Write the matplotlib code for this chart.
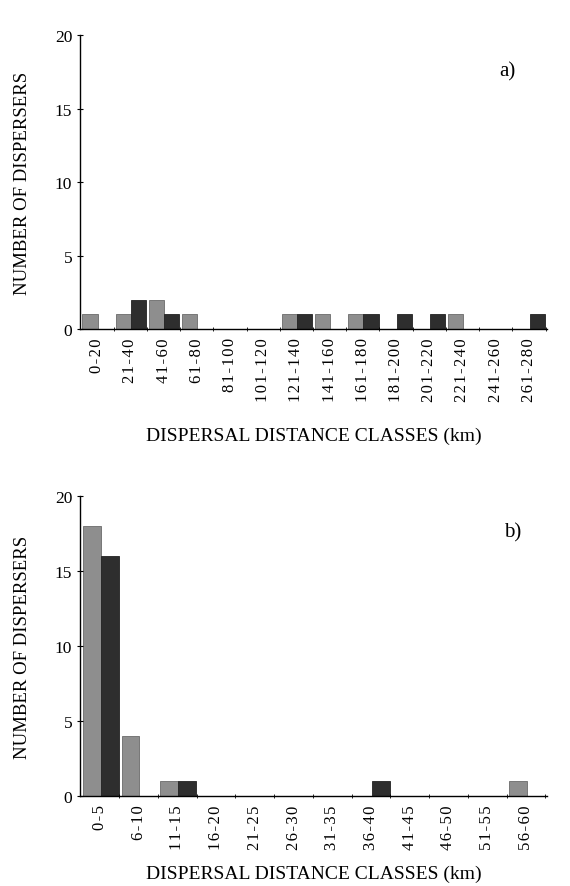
import matplotlib
matplotlib.use("Agg")
import matplotlib.pyplot as plt
import numpy as np

plt.rcParams['font.family'] = ['Liberation Serif', 'DejaVu Serif']

# a) classes de 20 km
classes_a = ["0-20", "21-40", "41-60", "61-80", "81-100", "101-120", "121-140",
             "141-160", "161-180", "181-200", "201-220", "221-240", "241-260", "261-280"]
gris_a = [1, 1, 2, 1, 0, 0, 1, 1, 1, 0, 0, 1, 0, 0]
noir_a = [0, 2, 1, 0, 0, 0, 1, 0, 1, 1, 1, 0, 0, 1]

# b) classes de 5 km
classes_b = ["0-5", "6-10", "11-15", "16-20", "21-25", "26-30",
             "31-35", "36-40", "41-45", "46-50", "51-55", "56-60"]
gris_b = [18, 4, 1, 0, 0, 0, 0, 0, 0, 0, 0, 1]
noir_b = [16, 0, 1, 0, 0, 0, 0, 1, 0, 0, 0, 0]

c_gris = '#8e8e8e'
c_noir = '#2e2e2e'


def espace(s):
    # chiffres un peu espacés comme dans la figure d'origine
    return "\u200a".join(s)


def panneau(ax, classes, gris, noir, lettre, xlettre, pad_x):
    x = np.arange(len(classes))
    w = 0.46
    ax.bar(x - w/2 + 0.02, gris, width=w, color=c_gris, edgecolor='#6a6a6a', linewidth=0.6)
    ax.bar(x + w/2 + 0.02, noir, width=w, color=c_noir, edgecolor='#222222', linewidth=0.6)
    ax.set_xlim(-0.52, len(classes) - 0.45)
    ax.set_ylim(0, 20)
    ax.set_yticks([0, 5, 10, 15, 20])
    ax.set_xticks(x)
    ax.set_xticklabels([espace(c) for c in classes], rotation=90, fontsize=12)
    ax.set_xticks(x + 0.5, minor=True)
    ax.tick_params(axis='x', which='major', length=0, pad=6)
    ax.tick_params(axis='x', which='minor', length=3, direction='inout')
    ax.tick_params(axis='y', length=4, direction='inout', labelsize=12.5)
    for s in ['top', 'right']:
        ax.spines[s].set_visible(False)
    ax.spines['left'].set_linewidth(1.0)
    ax.spines['bottom'].set_linewidth(1.0)
    ax.set_ylabel("NUMBER OF DISPERSERS", fontsize=13.5, labelpad=17)
    ax.set_xlabel("DISPERSAL DISTANCE CLASSES (km)", fontsize=14, labelpad=pad_x)
    ax.text(xlettre, 0.88, lettre, transform=ax.transAxes, fontsize=15,
            ha='center', va='center')


fig = plt.figure(figsize=(5.7, 8.87), dpi=100)
ax1 = fig.add_axes([0.140, 0.628, 0.82, 0.331])
ax2 = fig.add_axes([0.140, 0.1015, 0.82, 0.338])

panneau(ax1, classes_a, gris_a, noir_a, "a)", 0.914, 18)
panneau(ax2, classes_b, gris_b, noir_b, "b)", 0.925, 11)

plt.savefig("out.png", dpi=100)
